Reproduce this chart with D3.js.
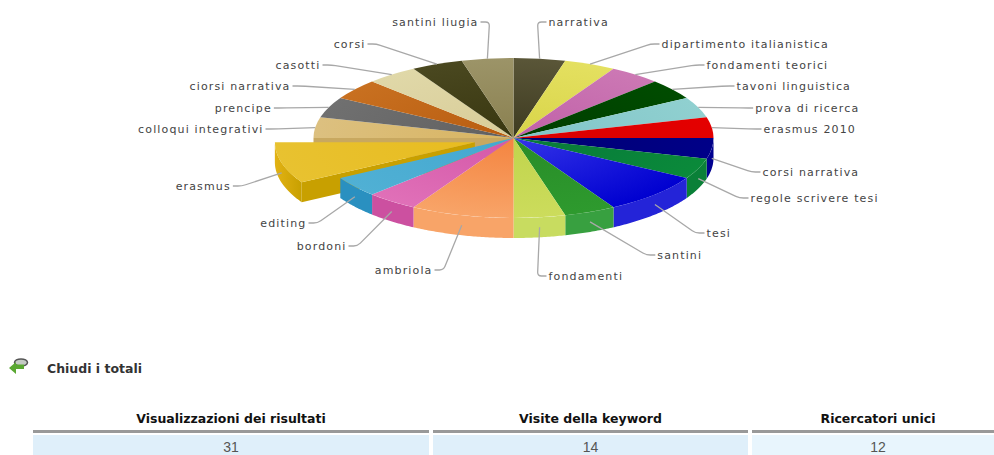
<!DOCTYPE html>
<html>
<head>
<meta charset="utf-8">
<style>
  html, body { margin: 0; padding: 0; background: #fff; overflow: hidden; }
  svg { display: block; }
</style>
<script src="https://cdn.jsdelivr.net/npm/d3@7"></script>
</head>
<body>
<svg id="chart" width="994" height="455"></svg>
<script>
// Keyword shares, clockwise from twelve o'clock
const categories = ["narrativa","dipartimento italianistica","fondamenti teorici","tavoni linguistica","prova di ricerca","erasmus 2010","corsi narrativa","regole scrivere tesi","tesi","santini","fondamenti","ambriola","bordoni","editing","erasmus","colloqui integrativi","prencipe","ciorsi narrativa","casotti","corsi","santini liugia"];
const values = [1,1,1,1,1,1,1,1,2,1,1,2,1,1,2,1,1,1,1,1,1];
const explodedCategory = "erasmus";

// Totals table
const totalsHeaders = ["Visualizzazioni dei risultati","Visite della keyword","Ricercatori unici"];
const totalsValues = ["31","14","12"];
const totalsTitle = "Chiudi i totali";

// Slice colours: centre of the top face, rim of the top face, outer wall
const innerColors = ["#3d3a20","#d8d448","#c060a8","#003c00","#80c4c8","#d80000","#000070","#08783a","#3434e8","#288c28","#c0d44c","#f48440","#d458a8","#44a8d0","#e8bc20","#d8b460","#606060","#b85c10","#d8cc98","#38360f","#8a8050"];
const outerColors = ["#5a5638","#e4e060","#cc78b4","#004c00","#90d0d0","#e40000","#000088","#0a8a3a","#0000d0","#2e9a2e","#ccdc5c","#f8a468","#e070b8","#50b0d4","#e8c230","#dcc080","#707070","#c87020","#e0d8a8","#4a4820","#9c9468"];
const wallColors = ["#3d3a20","#d8d448","#c060a8","#003c00","#80c4c8","#d80000","#000090","#0a8038","#2424d8","#38a040","#c8dc60","#f8a468","#cc50a0","#2a90c0","#c8a000","#c8a860","#606060","#b85c10","#d8cc98","#38360f","#8a8050"];

const svg = d3.select("#chart");
const defs = svg.append("defs");

const cx = 513.5, cy = 138, radius = 200, tilt = 0.4, depth = 20, explode = 40;

const pie = d3.pie().sort(null).value(d => d.value).startAngle(0).endAngle(2 * Math.PI);
const slices = pie(categories.map((name, i) => ({ name, value: values[i], i })));

const arcTop = d3.arc().innerRadius(0).outerRadius(radius);
const scaleX = d3.scaleLinear().domain([-1, 1]).range([-radius, radius]);
const scaleY = d3.scaleLinear().domain([-1, 1]).range([-radius * tilt, radius * tilt]);
const rimX = a => scaleX(Math.sin(a));
const rimY = a => scaleY(-Math.cos(a));

const offsetOf = d => {
  if (d.data.name !== explodedCategory) return [0, 0];
  const mid = (d.startAngle + d.endAngle) / 2;
  return [explode * Math.sin(mid), -explode * Math.cos(mid) * tilt];
};

slices.forEach(d => {
  const g = defs.append("radialGradient")
    .attr("id", "top-" + d.data.i)
    .attr("gradientUnits", "userSpaceOnUse")
    .attr("cx", 0).attr("cy", 0).attr("r", radius);
  g.append("stop").attr("offset", 0).attr("stop-color", innerColors[d.data.i]);
  g.append("stop").attr("offset", 1).attr("stop-color", outerColors[d.data.i]);
});

// The pulled slice's rim catches the light towards its far end
const pulledWall = defs.append("linearGradient").attr("id", "pulled-wall");
pulledWall.append("stop").attr("offset", 0).attr("stop-color", "#e2b214");
pulledWall.append("stop").attr("offset", 1).attr("stop-color", "#c8a000");

const wallArea = d3.area().x(a => rimX(a)).y0(a => rimY(a)).y1(a => rimY(a) + depth);

function sliceGroup(parent, d) {
  const [ox, oy] = offsetOf(d);
  return parent.append("g").attr("transform", `translate(${cx + ox},${cy + oy})`);
}

// Outer wall, only where the rim faces the viewer
function drawWall(g, d) {
  const a0 = Math.max(d.startAngle, Math.PI / 2), a1 = Math.min(d.endAngle, 3 * Math.PI / 2);
  if (a1 > a0) {
    const angles = d3.range(a0, a1, 0.01).concat([a1]);
    g.append("path").attr("d", wallArea(angles))
      .attr("fill", d.data.name === explodedCategory ? "url(#pulled-wall)" : wallColors[d.data.i]);
  }
}

function drawTop(g, d) {
  g.append("path")
    .attr("transform", `scale(1,${tilt})`)
    .attr("d", arcTop(d))
    .attr("fill", `url(#top-${d.data.i})`);
}

// Radial cut face between the centre and the rim at a given angle
function drawCutFace(g, angle, color) {
  const x = rimX(angle), y = rimY(angle);
  g.append("path")
    .attr("d", d3.line()([[0, 0], [x, y], [x, y + depth], [0, depth]]) + "Z")
    .attr("fill", color);
}

const pieLayer = svg.append("g");
const fixed = slices.filter(d => d.data.name !== explodedCategory);
const pulled = slices.find(d => d.data.name === explodedCategory);
const colloqui = slices.find(d => d.data.name === "colloqui integrativi");

// Back to front: exposed face beside the gap, walls of the pulled slice,
// the fixed pie, and last the top of the pulled slice.
const coreFace = pieLayer.append("g").attr("transform", `translate(${cx},${cy})`);
drawCutFace(coreFace, colloqui.startAngle, wallColors[colloqui.data.i]);

const pulledGroup = sliceGroup(pieLayer, pulled);
drawCutFace(pulledGroup, pulled.startAngle, wallColors[pulled.data.i]);
drawWall(pulledGroup, pulled);

fixed.forEach(d => {
  const g = sliceGroup(pieLayer, d);
  drawWall(g, d);
  drawTop(g, d);
});

drawTop(sliceGroup(pieLayer, pulled), pulled);

// Labels follow a curve around the pie: horizontal reach by distance from its mid row
const rowY = {
  "narrativa":22,"dipartimento italianistica":44,"fondamenti teorici":65,"tavoni linguistica":86,"prova di ricerca":108,"erasmus 2010":129,
  "corsi narrativa":172,"regole scrivere tesi":198,"tesi":233,"santini":255,"fondamenti":276,
  "santini liugia":22,"corsi":44,"casotti":65,"ciorsi narrativa":86,"prencipe":108,"colloqui integrativi":129,
  "erasmus":186,"editing":223,"bordoni":246,"ambriola":270
};
const labelCy = 149;
const labelReach = d3.scaleLinear()
  .domain([20, 37, 49, 63, 74, 84, 97, 105, 121, 127])
  .range([250, 244, 237, 223, 207, 193, 167, 148, 81, 35]);
const labelLayer = svg.append("g");

slices.forEach(d => {
  const mid = (d.startAngle + d.endAngle) / 2;
  const right = mid < Math.PI;
  const [ox, oy] = offsetOf(d);
  const facing = mid > Math.PI / 2 && mid < 3 * Math.PI / 2;
  const ax = cx + ox + rimX(mid);
  const ay = cy + oy + rimY(mid) + (facing ? depth / 2 : 0);
  const y = rowY[d.data.name];
  const dx = labelReach(Math.abs(y - labelCy));
  const lx = cx + (right ? dx : -dx) + ox;
  const sign = right ? 1 : -1;

  // Leader line with a small rounded elbow into the label
  const ex = lx - sign * 11, ey = y;
  const len = Math.hypot(ex - ax, ey - ay);
  const t = Math.max(0, 1 - 4 / len);
  const p = d3.path();
  p.moveTo(ax, ay);
  p.lineTo(ax + (ex - ax) * t, ay + (ey - ay) * t);
  p.quadraticCurveTo(ex, ey, ex + sign * 4, ey);
  p.lineTo(lx - sign * 2, y);
  labelLayer.append("path")
    .attr("d", p.toString())
    .attr("fill", "none")
    .attr("stroke", "#a8a8a8")
    .attr("stroke-width", 1.3);

  labelLayer.append("text")
    .attr("x", lx)
    .attr("y", y + 4)
    .attr("text-anchor", right ? "start" : "end")
    .attr("font-family", "'DejaVu Sans', sans-serif")
    .attr("font-size", 11)
    .attr("letter-spacing", 1.15)
    .attr("fill", "#444")
    .text(d.data.name);
});

// Collapse icon and heading
const icon = svg.append("g").attr("transform", "translate(18,366)");
icon.append("ellipse").attr("cx", 3).attr("cy", -3.5).attr("rx", 6.5).attr("ry", 3.6)
  .attr("fill", "#c4cac4").attr("stroke", "#555").attr("stroke-width", 1.5);
icon.append("path").attr("d", d3.line()([[-9, 2], [-2, -4], [-2, -1.5], [6, -1.5], [6, 3], [-2, 3], [-2, 8]]) + "Z")
  .attr("fill", "#5aa832");

const titleFont = "'DejaVu Sans', sans-serif";
svg.append("text").attr("x", 47).attr("y", 373)
  .attr("font-family", titleFont).attr("font-size", 12.5).attr("font-weight", 700)
  .attr("fill", "#333").text(totalsTitle);

// Totals table
const columns = d3.scaleOrdinal().domain(totalsHeaders).range([[33, 429], [433, 748], [752, 994]]);
const cellFills = ["#dfeffa", "#dfeffa", "#e8f5fd"];
const table = svg.append("g");
totalsHeaders.forEach((h, i) => {
  const [x0, x1] = columns(h);
  const mid = i === 2 ? 878 : (x0 + x1) / 2;
  table.append("text").attr("x", mid).attr("y", 423).attr("text-anchor", "middle")
    .attr("font-family", titleFont).attr("font-size", 12.5).attr("font-weight", 700)
    .attr("fill", "#111").text(h);
  table.append("rect").attr("x", x0).attr("y", 430).attr("width", x1 - x0).attr("height", 3).attr("fill", "#999");
  table.append("rect").attr("x", x0).attr("y", 435).attr("width", x1 - x0).attr("height", 20).attr("fill", cellFills[i]);
  table.append("text").attr("x", mid).attr("y", 452).attr("text-anchor", "middle")
    .attr("font-family", "'Liberation Sans', sans-serif").attr("font-size", 14)
    .attr("fill", "#555").text(totalsValues[i]);
});
</script>
</body>
</html>
